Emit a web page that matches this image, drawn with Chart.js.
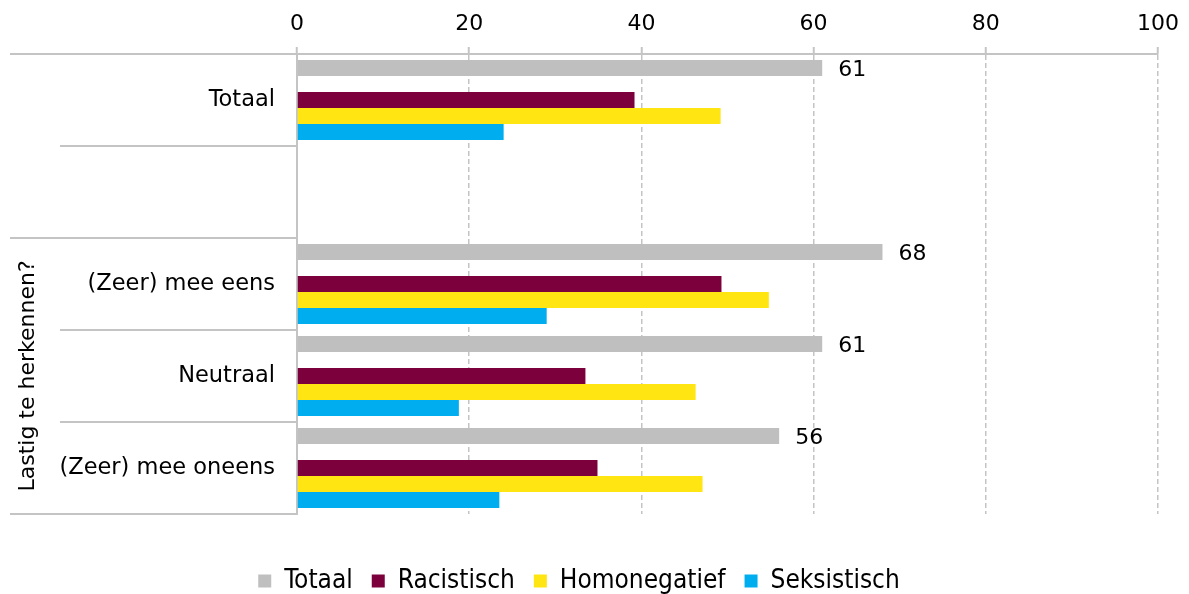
<!DOCTYPE html>
<html>
<head>
<meta charset="utf-8">
<script src="https://cdn.jsdelivr.net/npm/chart.js@4.4.1/dist/chart.umd.min.js"></script>
<style>
    html, body { margin: 0; padding: 0; background: #fff; }
</style>
</head>
<body>
<canvas id="chart" width="1189" height="594"></canvas>
<script>
"use strict";

// categories, one empty row between Totaal and the group
var categories = ["Totaal", "", "(Zeer) mee eens", "Neutraal", "(Zeer) mee oneens"];
var groupLabel = "Lastig te herkennen?";
var groupStart = 2;
var xTicks = [0, 20, 40, 60, 80, 100];

var totaal = [61, null, 68, 61, 56];
var racistisch = [39.2, null, 49.3, 33.5, 34.9];
var homonegatief = [49.2, null, 54.8, 46.3, 47.1];
var seksistisch = [24.0, null, 29.0, 18.8, 23.5];

var font = "'DejaVu Sans', sans-serif";
var lineColor = "#c4c4c4";

// separator lines to the left of the plot and the rotated group label
var sidePlugin = {
    id: "side",
    afterDraw: function(chart) {
        var ctx = chart.ctx;
        var y = chart.scales.y;
        var area = chart.chartArea;
        var half = (y.getPixelForValue(1) - y.getPixelForValue(0)) / 2;
        ctx.save();
        ctx.strokeStyle = lineColor;
        ctx.lineWidth = 2;
        for (var i = 0; i <= categories.length; i++) {
            var py = Math.round(y.getPixelForValue(i) - half);
            var x0 = (i === 0 || i === groupStart || i === categories.length) ? 10 : 60;
            ctx.beginPath();
            ctx.moveTo(x0, py);
            ctx.lineTo(area.left, py);
            ctx.stroke();
        }
        var gTop = y.getPixelForValue(groupStart) - half;
        var gMid = (gTop + area.bottom) / 2;
        ctx.translate(28, gMid);
        ctx.rotate(-Math.PI / 2);
        ctx.fillStyle = "#000";
        ctx.font = "22px " + font;
        ctx.textAlign = "center";
        ctx.textBaseline = "middle";
        ctx.fillText(groupLabel, 0, 0);
        ctx.restore();
    }
};

// value labels next to the Totaal bars
var valuePlugin = {
    id: "values",
    afterDatasetsDraw: function(chart) {
        var ctx = chart.ctx;
        var meta = chart.getDatasetMeta(0);
        ctx.save();
        ctx.fillStyle = "#000";
        ctx.font = "22px " + font;
        ctx.textAlign = "left";
        ctx.textBaseline = "middle";
        meta.data.forEach(function(bar, i) {
            var v = totaal[i];
            if (v === null) return;
            ctx.fillText(String(v), bar.x + 16, bar.y + 2);
        });
        ctx.restore();
    }
};

var ctx = document.getElementById("chart").getContext("2d");
var chart = new Chart(ctx, {
    type: "bar",
    data: {
        labels: categories,
        datasets: [
            { label: "Totaal", data: totaal, backgroundColor: "#bfbfbf" },
            { label: "", data: [null, null, null, null, null], backgroundColor: "transparent" },
            { label: "Racistisch", data: racistisch, backgroundColor: "#7b003c" },
            { label: "Homonegatief", data: homonegatief, backgroundColor: "#ffe511" },
            { label: "Seksistisch", data: seksistisch, backgroundColor: "#00aeef" }
        ]
    },
    options: {
        indexAxis: "y",
        responsive: false,
        animation: false,
        categoryPercentage: 0.87,
        barPercentage: 1.0,
        layout: { padding: { left: 0, right: 31, top: 0, bottom: -10 } },
        scales: {
            x: {
                position: "top",
                min: 0,
                max: 100,
                afterBuildTicks: function(scale) {
                    scale.ticks = xTicks.map(function(v) { return { value: v }; });
                },
                afterFit: function(scale) { scale.height = 54; },
                ticks: { color: "#000", font: { family: font, size: 22 }, padding: 10 },
                grid: {
                    color: lineColor,
                    lineWidth: 1.5,
                    tickLength: 7,
                    tickColor: lineColor,
                    tickWidth: 2,
                    tickBorderDash: []
                },
                border: { display: true, color: lineColor, width: 2, dash: [5, 3] }
            },
            gap: {
                type: "linear",
                axis: "x",
                position: "bottom",
                display: true,
                ticks: { display: false },
                grid: { display: false },
                border: { display: false },
                afterFit: function(scale) { scale.height = 35; }
            },
            y: {
                afterFit: function(scale) { scale.width = 297; },
                ticks: { color: "#000", font: { family: font, size: 22.5 }, padding: 14 },
                grid: { display: false },
                border: { display: true, color: lineColor, width: 2 }
            }
        },
        plugins: {
            legend: {
                position: "bottom",
                labels: {
                    boxWidth: 13,
                    boxHeight: 13,
                    padding: 19,
                    color: "#000",
                    font: { family: "'DejaVu Sans Condensed', 'DejaVu Sans', sans-serif", size: 26 },
                    filter: function(item) { return item.text !== ""; }
                }
            },
            tooltip: { enabled: false }
        }
    },
    plugins: [sidePlugin, valuePlugin]
});
</script>
</body>
</html>
